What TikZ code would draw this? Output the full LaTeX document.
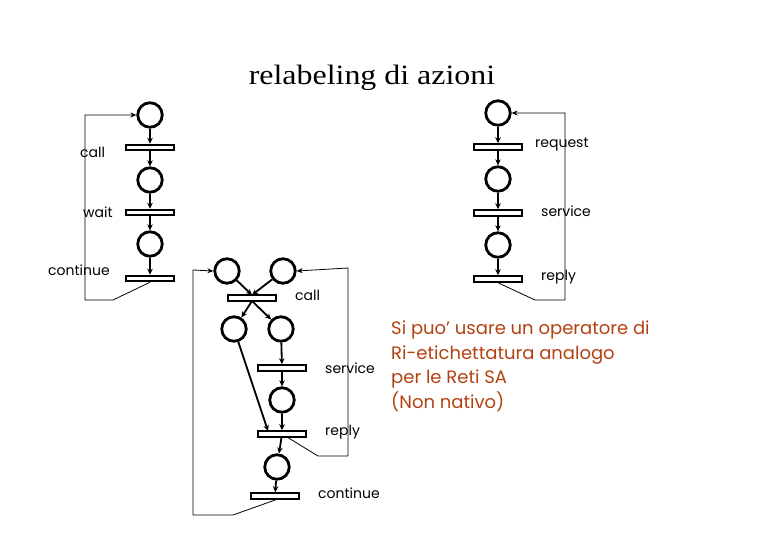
\documentclass[tikz,border=0pt]{standalone}
\usepackage{fontspec}
\setmainfont{Liberation Serif}
\newfontfamily\comicfont{Poppins}
\usetikzlibrary{arrows.meta}
\definecolor{notecol}{RGB}{178,66,18}
\tikzset{
  x=1pt, y=-1pt,
  place/.style={circle, draw, line width=2.8pt, minimum size=24.5pt, inner sep=0pt},
  trans/.style={rectangle, draw, line width=2pt, minimum width=48pt, minimum height=5.5pt, inner sep=0pt},
  arc/.style={line width=1.8pt, -{Stealth[length=6pt,width=5.5pt]}},
  loopline/.style={line width=0.8pt, -{Stealth[length=6pt,width=5pt]}},
  lab/.style={font=\comicfont\fontsize{14}{16}\selectfont, anchor=west, inner sep=0pt},
}
\begin{document}
\begin{tikzpicture}
\useasboundingbox (0,0) rectangle (780,540);
\node[font=\fontsize{28}{32}\selectfont, xscale=1.14] (title) at (372,78) {relabeling di azioni};

% left net
\node[place] (p1) at (150,115) {};
\node[trans] (t1) at (150,147.5) {};
\node[place] (p2) at (150,180) {};
\node[trans] (t2) at (150,212.5) {};
\node[place] (p3) at (150,244) {};
\node[trans] (t3) at (150,278.5) {};
\draw[arc] (p1) -- (t1);
\draw[arc] (t1) -- (p2);
\draw[arc] (p2) -- (t2);
\draw[arc] (t2) -- (p3);
\draw[arc] (p3) -- (t3);
\coordinate (la) at (113,300);
\coordinate (lb) at (85,300);
\coordinate (lc) at (85,115);
\draw[loopline] (t3.south) -- (la) -- (lb) -- (lc) -- (p1.west);
\node[lab] (lcall) at (80,152) {call};
\node[lab] (lwait) at (83,212) {wait};
\node[lab] (lcont) at (48,270) {continue};

% right net
\node[place] (q1) at (498,113) {};
\node[trans] (r1) at (498,147) {};
\node[place] (q2) at (498,179) {};
\node[trans] (r2) at (498,213) {};
\node[place] (q3) at (498,245) {};
\node[trans] (r3) at (498,279) {};
\draw[arc] (q1) -- (r1);
\draw[arc] (r1) -- (q2);
\draw[arc] (q2) -- (r2);
\draw[arc] (r2) -- (q3);
\draw[arc] (q3) -- (r3);
\coordinate (ra) at (535,300);
\coordinate (rb) at (565,300);
\coordinate (rc) at (565,113);
\draw[loopline] (r3.south) -- (ra) -- (rb) -- (rc) -- (q1.east);
\node[lab] (rreq) at (535,145) {request};
\node[lab] (rserv) at (541,211) {service};
\node[lab] (rrep) at (541,277) {reply};

% middle net
\node[place] (m1) at (227,271) {};
\node[place] (m2) at (283,271) {};
\node[trans] (mc) at (252,298) {};
\node[place] (m3) at (234,329) {};
\node[place] (m4) at (281,329) {};
\node[trans] (ms) at (282,368) {};
\node[place] (m5) at (282,400) {};
\node[trans] (mr) at (282,434) {};
\node[place] (m6) at (277,467) {};
\node[trans] (mo) at (275,496) {};
\coordinate (mctop) at (252,295);
\coordinate (mcbot) at (252,301);
\coordinate (mrtop) at (268,431);
\draw[arc] (m1) -- (mctop);
\draw[arc] (m2) -- (mctop);
\draw[arc] (mcbot) -- (m3);
\draw[arc] (mcbot) -- (m4);
\draw[arc] (m3) -- (mrtop);
\draw[arc] (m4) -- (ms);
\draw[arc] (ms) -- (m5);
\draw[arc] (m5) -- (mr);
\draw[arc] (mr) -- (m6);
\draw[arc] (m6) -- (mo);
\coordinate (mra) at (287,437);
\coordinate (mrb) at (318,456);
\coordinate (mrc) at (348,456);
\coordinate (mrd) at (348,268);
\draw[loopline] (mra) -- (mrb) -- (mrc) -- (mrd) -- (m2.east);
\coordinate (moa) at (278,499);
\coordinate (mob) at (233,515);
\coordinate (moc) at (193,515);
\coordinate (mod) at (193,270);
\draw[loopline] (moa) -- (mob) -- (moc) -- (mod) -- (m1.west);
\node[lab] (mcall) at (295,295) {call};
\node[lab] (mserv) at (325,368) {service};
\node[lab] (mrep) at (325,432) {reply};
\node[lab] (mcont) at (318,493) {continue};

% note
\node[font=\comicfont\fontsize{18}{24.5}\selectfont, text=notecol, align=left, anchor=north west, inner sep=0pt] (note) at (391,321)
  {Si puo’ usare un operatore di\\Ri-etichettatura analogo\\per le Reti SA\\(Non nativo)};
\end{tikzpicture}
\end{document}
